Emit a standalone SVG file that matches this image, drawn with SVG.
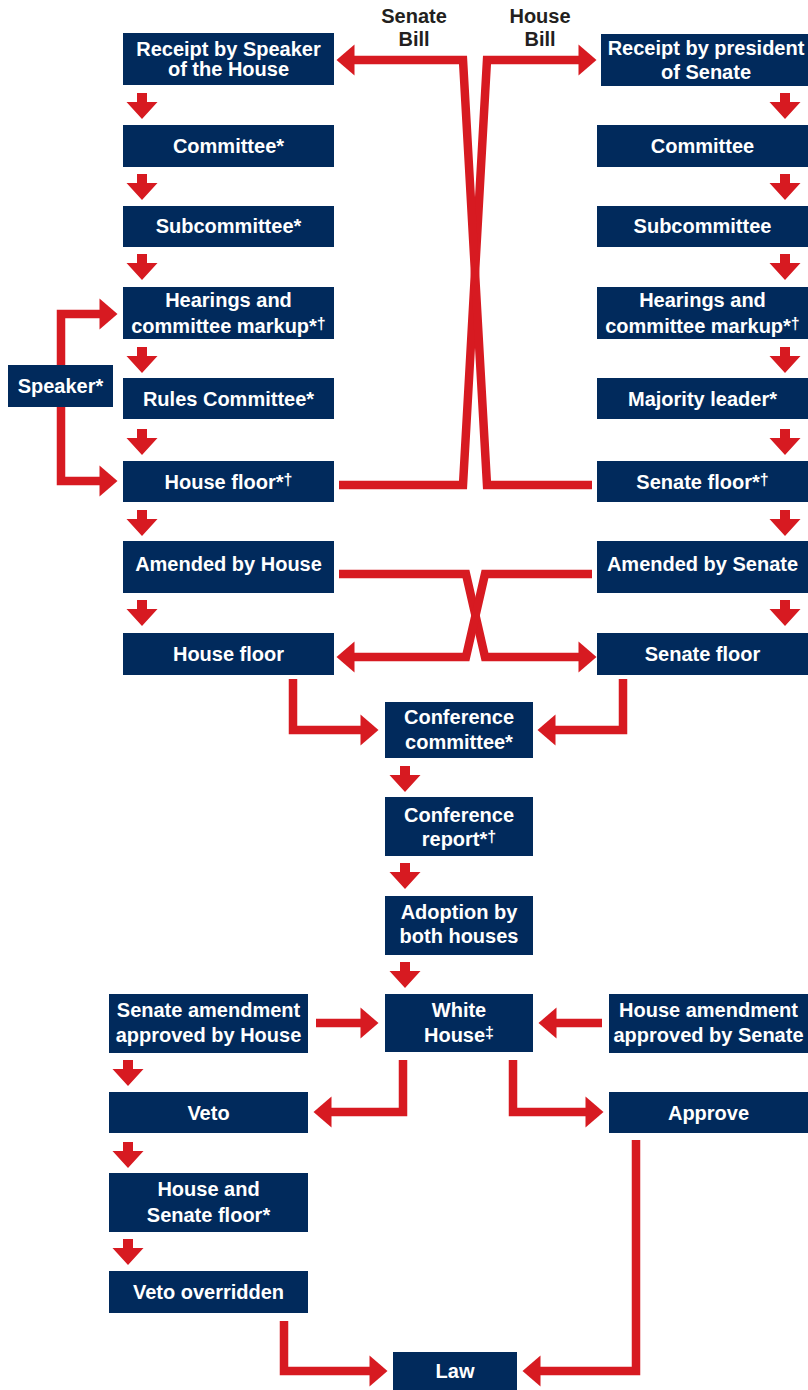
<svg xmlns="http://www.w3.org/2000/svg" xmlns:xlink="http://www.w3.org/1999/xlink" width="808" height="1390" viewBox="0 0 808 1390">
  <style>
    .box { fill: #012a5c; }
    .t { font-family: "Liberation Sans", Arial, sans-serif; font-weight: bold; font-size: 20px; fill: #ffffff; text-anchor: middle; }
    .lbl { fill: #231f20; }
    .sup { font-size: 16px; }
    .wire { fill: none; stroke: #d71a21; stroke-width: 8.5; stroke-linejoin: miter; marker-end: url(#head); }
    .down { fill: #d71a21; }
  </style>
  <defs>
    <marker id="head" markerUnits="userSpaceOnUse" markerWidth="19" markerHeight="32" refX="0.5" refY="15.5" orient="auto" overflow="visible">
      <path d="M0,0 L18,15.5 L0,31 Z" fill="#d71a21"/>
    </marker>
    <path id="down" d="M-5,0 H5 V9 H15.5 L0,26 L-15.5,9 H-5 Z"/>
  </defs>

  <!-- bill labels -->
  <text class="t lbl" x="414" y="23">Senate</text>
  <text class="t lbl" x="414" y="46">Bill</text>
  <text class="t lbl" x="540" y="23">House</text>
  <text class="t lbl" x="540" y="46">Bill</text>

  <!-- connectors -->
  <g id="connectors">
    <path class="wire" d="M339,485 H463 L487,60 H579"/>
    <path class="wire" d="M592,485 H487 L463,60 H354"/>
    <path class="wire" d="M61,370 V314 H100"/>
    <path class="wire" d="M61,400 V481 H100"/>
    <path class="wire" d="M339,574 H466 L485,657 H579"/>
    <path class="wire" d="M592,574 H485 L466,657 H354"/>
    <path class="wire" d="M293,679 V730 H361"/>
    <path class="wire" d="M623,679 V730 H555"/>
    <path class="wire" d="M316,1023 H361"/>
    <path class="wire" d="M602,1023 H556"/>
    <path class="wire" d="M403,1060 V1112 H331"/>
    <path class="wire" d="M513,1060 V1112 H586"/>
    <path class="wire" d="M284,1321 V1371 H370"/>
    <path class="wire" d="M636,1140 V1371 H540"/>
    <g class="down">
      <use xlink:href="#down" x="142" y="93"/>
      <use xlink:href="#down" x="142" y="174"/>
      <use xlink:href="#down" x="142" y="254"/>
      <use xlink:href="#down" x="142" y="347"/>
      <use xlink:href="#down" x="142" y="429"/>
      <use xlink:href="#down" x="142" y="510"/>
      <use xlink:href="#down" x="142" y="600"/>
      <use xlink:href="#down" x="785" y="93"/>
      <use xlink:href="#down" x="785" y="174"/>
      <use xlink:href="#down" x="785" y="254"/>
      <use xlink:href="#down" x="785" y="347"/>
      <use xlink:href="#down" x="785" y="429"/>
      <use xlink:href="#down" x="785" y="510"/>
      <use xlink:href="#down" x="785" y="600"/>
      <use xlink:href="#down" x="405" y="766"/>
      <use xlink:href="#down" x="405" y="863"/>
      <use xlink:href="#down" x="405" y="962"/>
      <use xlink:href="#down" x="128" y="1060"/>
      <use xlink:href="#down" x="128" y="1142"/>
      <use xlink:href="#down" x="128" y="1239"/>
    </g>
  </g>

  <!-- House side -->
  <g id="receipt-speaker"><rect class="box" x="123" y="33" width="211" height="52"/>
    <text class="t" x="228.5" y="56">Receipt by Speaker</text><text class="t" x="228.5" y="76">of the House</text></g>
  <g id="committee-house"><rect class="box" x="123" y="125" width="211" height="42"/>
    <text class="t" x="228.5" y="153">Committee*</text></g>
  <g id="subcommittee-house"><rect class="box" x="123" y="206" width="211" height="41"/>
    <text class="t" x="228.5" y="233">Subcommittee*</text></g>
  <g id="hearings-house"><rect class="box" x="123" y="287" width="211" height="52"/>
    <text class="t" x="228.5" y="306.5">Hearings and</text><text class="t" x="228.5" y="332.5">committee markup*<tspan class="sup" dy="-4">†</tspan></text></g>
  <g id="rules-committee"><rect class="box" x="123" y="378" width="211" height="41"/>
    <text class="t" x="228.5" y="405.5">Rules Committee*</text></g>
  <g id="house-floor"><rect class="box" x="123" y="461" width="211" height="41"/>
    <text class="t" x="228.5" y="488.5">House floor*<tspan class="sup" dy="-4">†</tspan></text></g>
  <g id="amended-house"><rect class="box" x="123" y="541" width="211" height="52"/>
    <text class="t" x="228.5" y="571">Amended by House</text></g>
  <g id="house-floor-2"><rect class="box" x="123" y="633" width="211" height="42"/>
    <text class="t" x="228.5" y="661">House floor</text></g>
  <g id="speaker"><rect class="box" x="8" y="365" width="105" height="42"/>
    <text class="t" x="60.5" y="393">Speaker*</text></g>

  <!-- Senate side -->
  <g id="receipt-president"><rect class="box" x="601" y="34" width="207" height="52"/>
    <text class="t" x="706" y="55">Receipt by president</text><text class="t" x="706" y="79">of Senate</text></g>
  <g id="committee-senate"><rect class="box" x="597" y="125" width="211" height="42"/>
    <text class="t" x="702.5" y="153">Committee</text></g>
  <g id="subcommittee-senate"><rect class="box" x="597" y="206" width="211" height="41"/>
    <text class="t" x="702.5" y="233">Subcommittee</text></g>
  <g id="hearings-senate"><rect class="box" x="597" y="287" width="211" height="52"/>
    <text class="t" x="702.5" y="306.5">Hearings and</text><text class="t" x="702.5" y="332.5">committee markup*<tspan class="sup" dy="-4">†</tspan></text></g>
  <g id="majority-leader"><rect class="box" x="597" y="378" width="211" height="41"/>
    <text class="t" x="702.5" y="405.5">Majority leader*</text></g>
  <g id="senate-floor"><rect class="box" x="597" y="461" width="211" height="41"/>
    <text class="t" x="702.5" y="488.5">Senate floor*<tspan class="sup" dy="-4">†</tspan></text></g>
  <g id="amended-senate"><rect class="box" x="597" y="541" width="211" height="52"/>
    <text class="t" x="702.5" y="571">Amended by Senate</text></g>
  <g id="senate-floor-2"><rect class="box" x="597" y="633" width="211" height="42"/>
    <text class="t" x="702.5" y="661">Senate floor</text></g>

  <!-- joint stages -->
  <g id="conference-committee"><rect class="box" x="385" y="702" width="148" height="56"/>
    <text class="t" x="459" y="724">Conference</text><text class="t" x="459" y="749">committee*</text></g>
  <g id="conference-report"><rect class="box" x="385" y="797" width="148" height="59"/>
    <text class="t" x="459" y="821.5">Conference</text><text class="t" x="459" y="845.5">report*<tspan class="sup" dy="-4">†</tspan></text></g>
  <g id="adoption"><rect class="box" x="385" y="896" width="148" height="59"/>
    <text class="t" x="459" y="919">Adoption by</text><text class="t" x="459" y="943">both houses</text></g>
  <g id="white-house"><rect class="box" x="385" y="994" width="148" height="58"/>
    <text class="t" x="459" y="1017">White</text><text class="t" x="459" y="1042">House<tspan class="sup" dy="-4">‡</tspan></text></g>
  <g id="senate-amendment"><rect class="box" x="109" y="994" width="199" height="59"/>
    <text class="t" x="208.5" y="1017">Senate amendment</text><text class="t" x="208.5" y="1042">approved by House</text></g>
  <g id="house-amendment"><rect class="box" x="609" y="994" width="199" height="59"/>
    <text class="t" x="708.5" y="1017">House amendment</text><text class="t" x="708.5" y="1042">approved by Senate</text></g>
  <g id="veto"><rect class="box" x="109" y="1092" width="199" height="41"/>
    <text class="t" x="208.5" y="1119.5">Veto</text></g>
  <g id="approve"><rect class="box" x="609" y="1092" width="199" height="41"/>
    <text class="t" x="708.5" y="1119.5">Approve</text></g>
  <g id="house-senate-floor"><rect class="box" x="109" y="1173" width="199" height="59"/>
    <text class="t" x="208.5" y="1196">House and</text><text class="t" x="208.5" y="1221.5">Senate floor*</text></g>
  <g id="veto-overridden"><rect class="box" x="109" y="1271" width="199" height="42"/>
    <text class="t" x="208.5" y="1299">Veto overridden</text></g>
  <g id="law"><rect class="box" x="393" y="1352" width="124" height="38"/>
    <text class="t" x="455" y="1378">Law</text></g>
</svg>
